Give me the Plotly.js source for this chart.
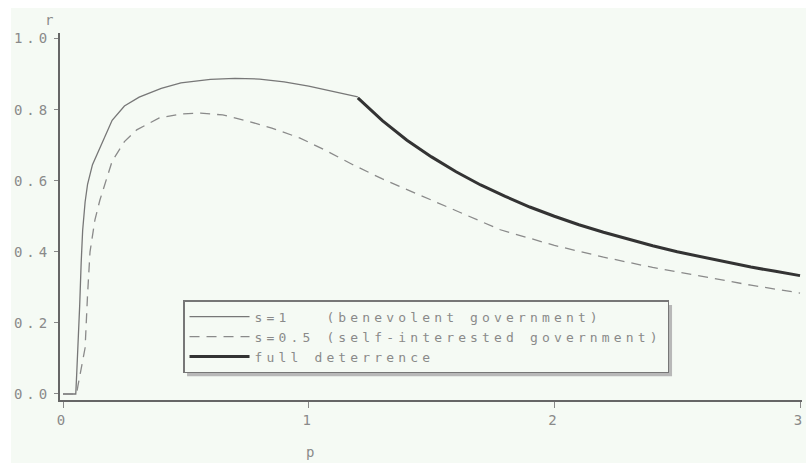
<!DOCTYPE html>
<html>
<head>
<meta charset="utf-8">
<script src="https://cdn.plot.ly/plotly-3.0.1.min.js"></script>
<style>
html,body{margin:0;padding:0;background:#ffffff;}
#chart{position:absolute;left:11px;top:8px;width:795px;height:455px;}
.legendtext{letter-spacing:4.15px;}
.ytick text,.xtick text{letter-spacing:4px;}
</style>
</head>
<body>
<div id="chart"></div>
<script>
// s = 1 (benevolent government)
const pBenevolent = [0, 0.052, 0.056, 0.062, 0.068, 0.074, 0.08, 0.09, 0.1, 0.12, 0.15, 0.2, 0.25, 0.31, 0.4, 0.48, 0.6, 0.7, 0.8, 0.9, 1.0, 1.1, 1.2];
const rBenevolent = [0, 0, 0.06, 0.14, 0.25, 0.37, 0.46, 0.54, 0.59, 0.645, 0.69, 0.77, 0.81, 0.835, 0.86, 0.875, 0.885, 0.888, 0.886, 0.878, 0.866, 0.852, 0.836];

// s = 0.5 (self-interested government)
const pSelf = [0, 0.055, 0.06, 0.07, 0.08, 0.09, 0.1, 0.11, 0.13, 0.15, 0.2, 0.25, 0.3, 0.39, 0.48, 0.56, 0.65, 0.75, 0.85, 0.965, 1.07, 1.18, 1.3, 1.5, 1.78, 2.0, 2.2, 2.4, 2.6, 2.8, 3.0];
const rSelf = [0, 0, 0.02, 0.06, 0.09, 0.13, 0.28, 0.40, 0.49, 0.545, 0.655, 0.71, 0.743, 0.776, 0.788, 0.79, 0.785, 0.768, 0.748, 0.72, 0.685, 0.645, 0.605, 0.546, 0.462, 0.418, 0.385, 0.356, 0.330, 0.306, 0.284];

// full deterrence
const pFull = [1.2, 1.3, 1.4, 1.5, 1.6, 1.7, 1.8, 1.9, 2.0, 2.1, 2.2, 2.3, 2.4, 2.5, 2.6, 2.7, 2.8, 2.9, 3.0];
const rFull = [0.833, 0.769, 0.714, 0.667, 0.625, 0.588, 0.556, 0.526, 0.500, 0.476, 0.455, 0.435, 0.417, 0.400, 0.385, 0.370, 0.357, 0.345, 0.333];

const legendNames = ["s=1\u00a0\u00a0\u00a0(benevolent government)", "s=0.5\u00a0(self-interested government)", "full deterrence"];
const xTicks = [0, 1, 2, 3];
const xTickLabels = ["0", "1", "2", "3"];
const yTicks = [0, 0.2, 0.4, 0.6, 0.8, 1.0];
const yTickLabels = ["0.0", "0.2", "0.4", "0.6", "0.8", "1.0"];

const bg = "#f5faf4";
const txt = "#8a8a8a";
const mono = "DejaVu Sans Mono, Liberation Mono, monospace";

const traces = [
  {x: pBenevolent, y: rBenevolent, name: legendNames[0], mode: "lines", line: {color: "#777777", width: 1.3}},
  {x: pSelf, y: rSelf, name: legendNames[1], mode: "lines", line: {color: "#8a8a8a", width: 1.3, dash: "10px,7px"}},
  {x: pFull, y: rFull, name: legendNames[2], mode: "lines", line: {color: "#333333", width: 3}}
];

const layout = {
  width: 795, height: 455,
  paper_bgcolor: bg, plot_bgcolor: bg,
  margin: {l: 49, r: 4, t: 25, b: 63},
  showlegend: true,
  legend: {
    x: 0.1658, y: 0.272, xanchor: "left", yanchor: "top",
    bgcolor: bg, bordercolor: "#777777", borderwidth: 1.5,
    font: {family: mono, size: 13, color: txt},
    itemwidth: 60, tracegroupgap: 0
  },
  xaxis: {
    range: [-0.0122, 3.008], showgrid: false, zeroline: false,
    showline: true, linecolor: "#666666", linewidth: 2,
    tickmode: "array", tickvals: xTicks, ticktext: xTickLabels,
    ticks: "outside", ticklen: 6, tickcolor: "#888888",
    ticklabeloverflow: "allow",
    tickfont: {family: mono, size: 14, color: txt}
  },
  yaxis: {
    range: [-0.0169, 1.0155], showgrid: false, zeroline: false,
    showline: true, linecolor: "#666666", linewidth: 2,
    tickmode: "array", tickvals: yTicks, ticktext: yTickLabels,
    ticks: "outside", ticklen: 4, tickcolor: "#888888",
    tickfont: {family: mono, size: 14, color: txt}
  },
  shapes: [
    {type: "rect", xref: "x", yref: "y", x0: 0.505, x1: 2.479, y0: 0.05, y1: 0.25,
     fillcolor: "#b8b8b8", line: {width: 0}, layer: "above"}
  ],
  annotations: [
    {text: "r", xref: "paper", yref: "paper", x: -0.023, y: 1.035, yanchor: "middle", showarrow: false,
     font: {family: mono, size: 14, color: txt}},
    {text: "p", xref: "paper", yref: "paper", x: 0.337, y: -0.142, yanchor: "middle", showarrow: false,
     font: {family: mono, size: 14, color: txt}}
  ]
};

Plotly.newPlot("chart", traces, layout, {displayModeBar: false, staticPlot: true});
</script>
</body>
</html>
